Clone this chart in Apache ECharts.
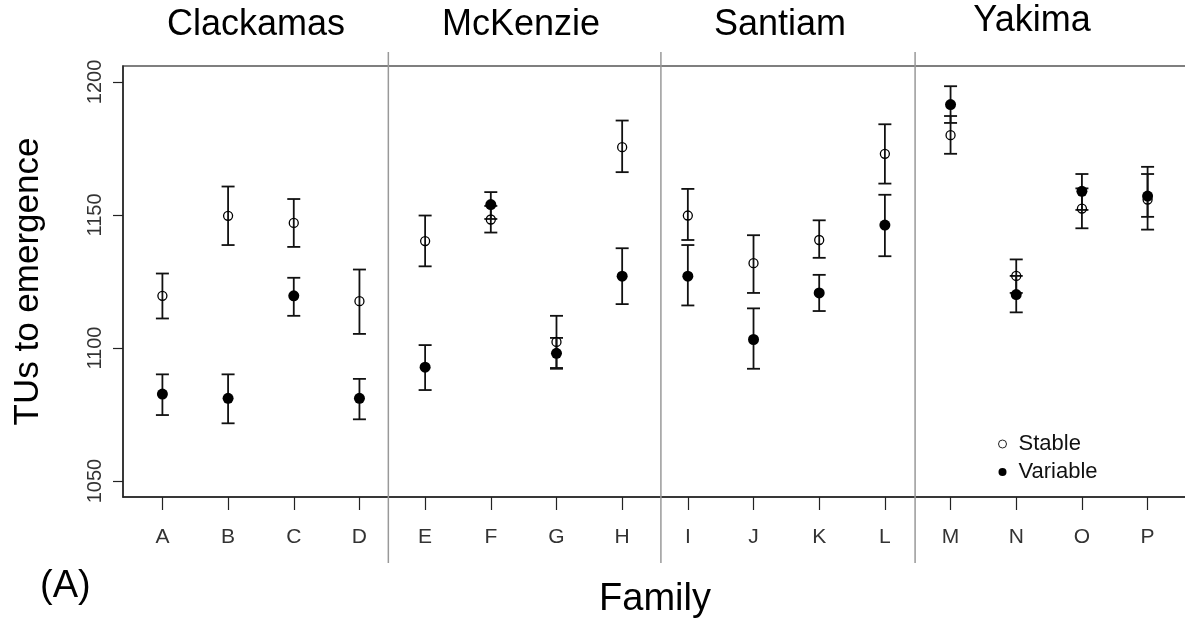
<!DOCTYPE html>
<html>
<head>
<meta charset="utf-8">
<title>TUs to emergence</title>
<script src="https://cdn.jsdelivr.net/npm/echarts@6/dist/echarts.min.js"></script>
<style>
  html, body { margin: 0; padding: 0; background: #fff; }
  #main { width: 1185px; height: 628px; }
</style>
</head>
<body>
<div id="main"></div>
<script>
// families on the x axis (position 1..16)
var families = ['A','B','C','D','E','F','G','H','I','J','K','L','M','N','O','P'];
var rivers = ['Clackamas', 'McKenzie', 'Santiam', 'Yakima'];
var yTicks = [1050, 1100, 1150, 1200];

// stable temperature regime: mean and error bar ends
var stableMean = [1119.6, 1149.7, 1147.0, 1117.6, 1140.2, 1148.3, 1102.3, 1175.5, 1149.8, 1131.9, 1140.6, 1173.0, 1180.0, 1127.1, 1152.4, 1155.8];
var stableLo   = [1111.1, 1138.7, 1138.0, 1105.3, 1130.7, 1143.4, 1092.5, 1166.1, 1140.6, 1120.7, 1133.9, 1161.8, 1173.0, 1120.7, 1145.0, 1144.5];
var stableHi   = [1128.0, 1160.7, 1156.0, 1129.5, 1149.8, 1153.4, 1112.1, 1185.5, 1159.8, 1142.4, 1148.0, 1184.1, 1187.2, 1133.3, 1160.0, 1165.4];

// variable temperature regime
var variableMean = [1082.7, 1081.1, 1119.6, 1081.1, 1092.8, 1153.9, 1098.0, 1127.0, 1127.0, 1103.2, 1120.7, 1146.2, 1191.5, 1120.1, 1158.9, 1157.1];
var variableLo   = [1074.8, 1071.7, 1112.1, 1073.2, 1084.2, 1148.5, 1092.2, 1116.5, 1116.0, 1092.2, 1113.9, 1134.5, 1184.6, 1113.4, 1151.9, 1149.3];
var variableHi   = [1090.1, 1090.1, 1126.4, 1088.4, 1101.1, 1158.6, 1103.8, 1137.5, 1138.7, 1114.9, 1127.5, 1157.6, 1198.4, 1127.1, 1165.4, 1168.1];

// vertical dividers between rivers (x axis units)
var dividers = [4.44, 8.59, 12.46];

var positions = families.map(function (f, i) { return i + 1; });
var font = 'Liberation Sans, Arial, sans-serif';

function points(means) {
    return means.map(function (v, i) { return [i + 1, v]; });
}
function bars(lo, hi) {
    return lo.map(function (v, i) { return [i + 1, v, hi[i]]; });
}

// error bar: vertical line with caps
function renderBar(params, api) {
    var x = api.value(0);
    var lo = api.coord([x, api.value(1)]);
    var hi = api.coord([x, api.value(2)]);
    var w = 6.5;
    var style = { stroke: '#111', lineWidth: 1.8 };
    return {
        type: 'group',
        children: [
            { type: 'line', shape: { x1: lo[0], y1: lo[1], x2: hi[0], y2: hi[1] }, style: style },
            { type: 'line', shape: { x1: lo[0] - w, y1: lo[1], x2: lo[0] + w, y2: lo[1] }, style: style },
            { type: 'line', shape: { x1: hi[0] - w, y1: hi[1], x2: hi[0] + w, y2: hi[1] }, style: style }
        ]
    };
}

var myChart = echarts.init(document.getElementById('main'));

var option = {
    animation: false,
    backgroundColor: '#fff',
    textStyle: { fontFamily: font },
    grid: {
        left: 123, top: 66, width: 1064, height: 431,
        outerBoundsMode: 'none',
        containLabel: false,
        show: true, borderColor: '#555', borderWidth: 1.5
    },
    legend: {
        orient: 'vertical',
        left: 993, top: 428,
        itemWidth: 22, itemHeight: 8, itemGap: 6,
        textStyle: { fontSize: 22, color: '#111', fontFamily: font },
        data: [
            { name: 'Stable', icon: 'circle', itemStyle: { color: '#fff', borderColor: '#222', borderWidth: 1, opacity: 1 } },
            { name: 'Variable', icon: 'circle', itemStyle: { color: '#000', borderWidth: 0, opacity: 1 } }
        ]
    },
    xAxis: {
        type: 'value',
        min: 0.4, max: 16.6,
        name: 'Family',
        nameLocation: 'middle',
        nameGap: 84,
        nameTextStyle: { fontSize: 38, color: '#000', fontFamily: font },
        axisLine: { show: true, lineStyle: { color: '#222', width: 1.5 } },
        axisTick: { show: true, length: 13, customValues: positions, lineStyle: { color: '#222', width: 1.2 } },
        axisLabel: {
            customValues: positions,
            margin: 30,
            fontSize: 21, color: '#333', fontFamily: font,
            formatter: function (v) { return families[Math.round(v) - 1]; }
        },
        splitLine: { show: false }
    },
    yAxis: {
        type: 'value',
        min: 1044, max: 1206,
        name: 'TUs to emergence',
        nameLocation: 'middle',
        nameGap: 77,
        nameRotate: 90,
        nameTextStyle: { fontSize: 35, color: '#000', fontFamily: font },
        axisLine: { show: true, lineStyle: { color: '#222', width: 1.5 } },
        axisTick: { show: true, length: 10, customValues: yTicks, lineStyle: { color: '#222', width: 1.2 } },
        axisLabel: {
            customValues: yTicks,
            rotate: 90,
            margin: 18,
            fontSize: 20, color: '#333', fontFamily: font,
            formatter: function (v) { return String(v); }
        },
        splitLine: { show: false }
    },
    series: [
        {
            name: 'Stable bars', type: 'custom', renderItem: renderBar,
            encode: { x: 0, y: [1, 2] }, data: bars(stableLo, stableHi), z: 2
        },
        {
            name: 'Variable bars', type: 'custom', renderItem: renderBar,
            encode: { x: 0, y: [1, 2] }, data: bars(variableLo, variableHi), z: 2
        },
        {
            name: 'Stable', type: 'scatter', symbol: 'circle', symbolSize: 9,
            itemStyle: { color: 'rgba(255,255,255,0)', borderColor: '#000', borderWidth: 1.3, opacity: 1 },
            data: points(stableMean), z: 3
        },
        {
            name: 'Variable', type: 'scatter', symbol: 'circle', symbolSize: 11,
            itemStyle: { color: '#000', opacity: 1 },
            data: points(variableMean), z: 4
        }
    ]
};

myChart.setOption(option);

// river dividers and river names above the panels
var titleX = [256, 521, 780, 1032];
var titleY = [25, 25, 25, 21];
var graphics = [];
dividers.forEach(function (d) {
    var px = myChart.convertToPixel({ xAxisIndex: 0 }, d);
    graphics.push({
        type: 'line', silent: true, z: 1,
        shape: { x1: px, y1: 52, x2: px, y2: 563 },
        style: { stroke: '#999', lineWidth: 1.5 }
    });
});
rivers.forEach(function (r, i) {
    graphics.push({
        type: 'text', x: titleX[i], y: titleY[i],
        style: { text: r, font: '36px ' + font, fill: '#000', textAlign: 'center', textVerticalAlign: 'middle' }
    });
});
graphics.push({
    type: 'text', x: 40, y: 587,
    style: { text: '(A)', font: '38px ' + font, fill: '#000', textAlign: 'left', textVerticalAlign: 'middle' }
});
myChart.setOption({ graphic: graphics });
</script>
</body>
</html>
